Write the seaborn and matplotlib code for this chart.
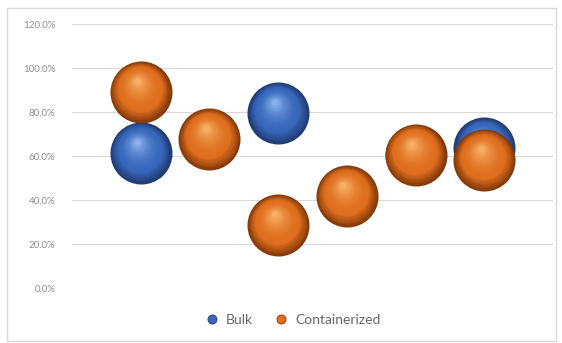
import numpy as np
import pandas as pd
import matplotlib
matplotlib.use("Agg")
import matplotlib.pyplot as plt
import matplotlib.transforms as mtransforms
from matplotlib.lines import Line2D
from matplotlib.patches import Rectangle
from matplotlib.ticker import PercentFormatter
import seaborn as sns

# data
bulk_x = [1, 3, 6]
bulk_y = [0.614, 0.795, 0.636]
cont_x = [1, 2, 3, 4, 5, 6]
cont_y = [0.891, 0.677, 0.286, 0.418, 0.605, 0.582]
series_names = ["Bulk", "Containerized"]
y_ticks = [0.0, 0.2, 0.4, 0.6, 0.8, 1.0, 1.2]

df = pd.concat([
    pd.DataFrame({"x": bulk_x, "y": bulk_y, "series": "Bulk"}),
    pd.DataFrame({"x": cont_x, "y": cont_y, "series": "Containerized"}),
])

sns.set_style("white")
plt.rcParams['font.family'] = ['Lato', 'DejaVu Sans']

fig = plt.figure(figsize=(5.62, 3.43), dpi=100)
ax = fig.add_axes([0.128, 0.160, 0.856, 0.770])

# sphere colours: rim (dark), body, highlight
shades = {
    "Bulk": ("#203a70", "#3767bb", "#8cb2ee"),
    "Containerized": ("#803808", "#df6e1e", "#f6b066"),
}

diam_px = 62.0
base_s = (diam_px * 72 / 100) ** 2

palette = {k: v[1] for k, v in shades.items()}
sns.scatterplot(data=df, x="x", y="y", hue="series", palette=palette,
                s=base_s, linewidth=0, legend=False, ax=ax, zorder=2)
ax.collections[0].remove()

def mix(c1, c2, t):
    a = np.array(matplotlib.colors.to_rgb(c1))
    b = np.array(matplotlib.colors.to_rgb(c2))
    return tuple(a + (b - a) * t)

z = 3
for name in series_names:
    sub = df[df["series"] == name]
    rim, body, hi = shades[name]
    n = 30
    for i in range(n):
        t = i / (n - 1)
        d = diam_px * (1 - 0.92 * t)
        # shift layers toward the highlight (up, slightly left)
        dx = -0.06 * diam_px * t
        dy = 0.18 * diam_px * t
        if t < 0.3:
            col = mix(rim, body, t / 0.3)
        else:
            col = mix(body, hi, ((t - 0.3) / 0.7) ** 1.8)
        tr = ax.transData + mtransforms.ScaledTranslation(dx / 100, dy / 100, fig.dpi_scale_trans)
        ax.scatter(sub["x"], sub["y"], s=(d * 72 / 100) ** 2, color=col,
                   linewidths=0, transform=tr, zorder=z)
        z += 1

ax.set_xlim(0, 7)
ax.set_ylim(0, 1.2)
ax.set_yticks(y_ticks)
ax.yaxis.set_major_formatter(PercentFormatter(1.0, decimals=1))
ax.set_xticks([])
ax.grid(axis="y", color="#d9d9d9", linewidth=0.8)
ax.set_axisbelow(True)
for sp in ax.spines.values():
    sp.set_visible(False)
ax.tick_params(axis="y", length=0, pad=12, labelsize=7, labelcolor="#8c8c8c")
ax.set_xlabel("")
ax.set_ylabel("")

handles = [Line2D([], [], marker="o", linestyle="", markersize=6.5,
                  markerfacecolor=shades[n][1], markeredgecolor=shades[n][0],
                  markeredgewidth=0.6) for n in series_names]
fig.legend(handles, series_names, loc="center", bbox_to_anchor=(0.515, 0.067),
           ncol=2, frameon=False, fontsize=10, labelcolor="#666666",
           handletextpad=0.05, columnspacing=1.0)

fig.add_artist(Rectangle((0.012, 0.006), 0.978, 0.97, transform=fig.transFigure,
                         fill=False, edgecolor="#d9d9d9", linewidth=1))

fig.savefig("out.png", dpi=100)
